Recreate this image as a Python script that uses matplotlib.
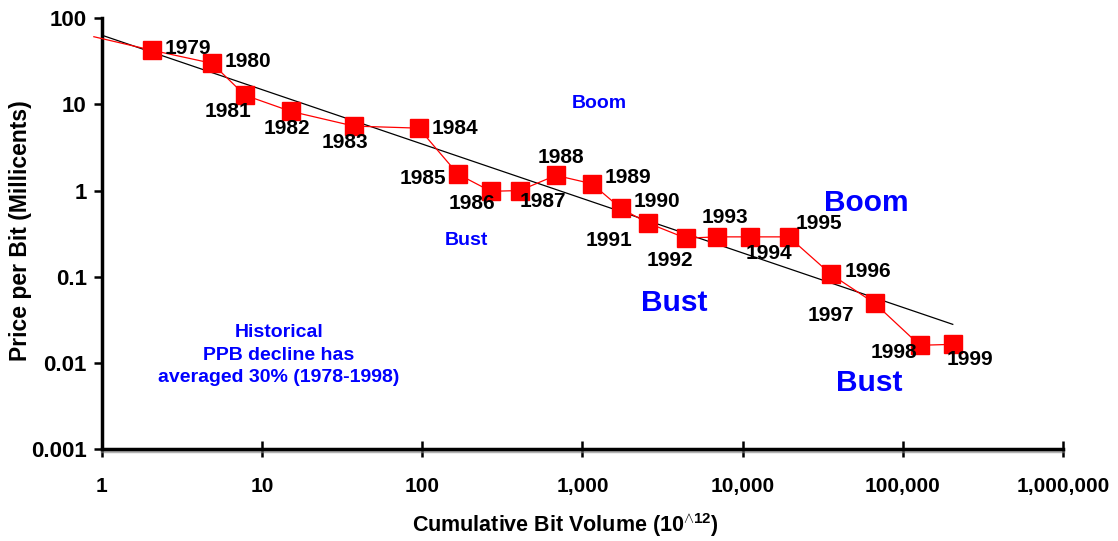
import matplotlib
matplotlib.use("Agg")
import matplotlib.pyplot as plt
import matplotlib.ticker as mticker
import matplotlib.patheffects as pe

plt.rcParams["font.family"] = ["Liberation Sans", "DejaVu Sans"]
plt.rcParams["font.weight"] = "bold"
plt.rcParams["mathtext.fontset"] = "custom"
plt.rcParams["mathtext.rm"] = "Liberation Sans:bold"
plt.rcParams["mathtext.bf"] = "Liberation Sans:bold"
plt.rcParams["mathtext.default"] = "bf"

# Data
years = [1979, 1980, 1981, 1982, 1983, 1984, 1985, 1986, 1987, 1988,
         1989, 1990, 1991, 1992, 1993, 1994, 1995, 1996, 1997, 1998, 1999]
volume = [2.05, 4.86, 7.8, 15.1, 37.4, 95, 167, 268, 406, 682,
          1145, 1740, 2560, 4420, 6900, 11100, 19400, 35500, 66900, 127600, 205000]
price = [42.5, 30, 12.8, 8.3, 5.6, 5.3, 1.55, 0.98, 1.0, 1.5,
         1.2, 0.62, 0.42, 0.28, 0.29, 0.29, 0.29, 0.107, 0.049, 0.016, 0.0164]
# line continues from 1978 at the left edge
start_volume = 0.89
start_price = 61

trend_x = [1, 205000]
trend_y = [63.5, 0.028]

# label offsets in pixels (dx, dy) relative to each marker
label_offsets = [(36, 2), (36, 2), (-17, -16), (-4, -17), (-9, -16), (36, 0),
                 (-35, -4), (-19, -12), (23, -11), (5, 18), (36, 6), (36, 7),
                 (-39, -17), (-16, -22), (8, 19), (19, -17), (30, 13), (37, 3),
                 (-44, -12), (-26, -7), (17, -15)]

fig = plt.figure(figsize=(11.18, 5.41), dpi=100)
ax = fig.add_axes([0.0912, 0.170, 0.8596, 0.7963])

ax.set_xscale("log")
ax.set_yscale("log")
ax.set_xlim(1, 1e6)
ax.set_ylim(0.001, 100)

# trend line
ax.plot(trend_x, trend_y, color="black", lw=0.9, zorder=2)

# price curve
ax.plot([start_volume] + volume, [start_price] + price, color="red", lw=0.9,
        clip_on=False, zorder=3)
ax.plot(volume, price, ls="none", marker="s", ms=12.5, color="red", zorder=4)

for yr, x, y, (dx, dy) in zip(years, volume, price, label_offsets):
    ax.annotate(str(yr), (x, y), xytext=(dx, dy), textcoords="offset pixels",
                ha="center", va="center", fontsize=15, fontweight="bold",
                color="black", zorder=5)

# Boom / Bust notes
blue = "#0000ff"
ax.text(0.518, 0.802, "Boom", transform=ax.transAxes, color=blue,
        fontsize=14, fontweight="bold", ha="center", va="center")
ax.text(0.379, 0.483, "Bust", transform=ax.transAxes, color=blue,
        fontsize=14, fontweight="bold", ha="center", va="center")
ax.text(0.795, 0.570, "Boom", transform=ax.transAxes, color=blue,
        fontsize=21.5, fontweight="bold", ha="center", va="center")
ax.text(0.595, 0.339, "Bust", transform=ax.transAxes, color=blue,
        fontsize=21.5, fontweight="bold", ha="center", va="center")
ax.text(0.798, 0.153, "Bust", transform=ax.transAxes, color=blue,
        fontsize=21.5, fontweight="bold", ha="center", va="center")
ax.text(0.184, 0.218, "Historical\nPPB decline has\naveraged 30% (1978-1998)",
        transform=ax.transAxes, color=blue, fontsize=14, fontweight="bold",
        ha="center", va="center", linespacing=1.4)

# axes styling
ax.spines["top"].set_visible(False)
ax.spines["right"].set_visible(False)
ax.spines["left"].set_linewidth(2.5)
ax.spines["bottom"].set_linewidth(2.5)
ax.spines["bottom"].set_path_effects([
    pe.SimpleLineShadow(offset=(0, -1.5), shadow_color="gray", alpha=0.6),
    pe.Normal()])

ax.xaxis.set_major_locator(mticker.FixedLocator([1, 10, 100, 1e3, 1e4, 1e5, 1e6]))
ax.yaxis.set_major_locator(mticker.FixedLocator([0.001, 0.01, 0.1, 1, 10, 100]))
ax.xaxis.set_minor_locator(mticker.NullLocator())
ax.yaxis.set_minor_locator(mticker.NullLocator())
ax.xaxis.set_major_formatter(mticker.FuncFormatter(lambda v, p: f"{v:,.0f}"))
ax.yaxis.set_major_formatter(mticker.FuncFormatter(lambda v, p: f"{v:g}"))

ax.tick_params(axis="x", direction="inout", length=12, width=1.8,
               labelsize=15, pad=14)
ax.tick_params(axis="y", direction="out", length=6, width=1.8,
               labelsize=16, pad=5)
for lbl in ax.get_xticklabels() + ax.get_yticklabels():
    lbl.set_fontweight("bold")

ax.set_xlabel(r"Cumulative Bit Volume (10$^{\wedge 12}$)", fontsize=15.5,
              fontweight="bold")
ax.set_ylabel("Price per Bit (Millicents)", fontsize=16.5, fontweight="bold")
ax.xaxis.set_label_coords(0.482, -0.176)
ax.yaxis.set_label_coords(-0.085, 0.508)
ax.xaxis.label.set_va("center")
ax.yaxis.label.set_va("center")

fig.savefig("out.png", dpi=100)
